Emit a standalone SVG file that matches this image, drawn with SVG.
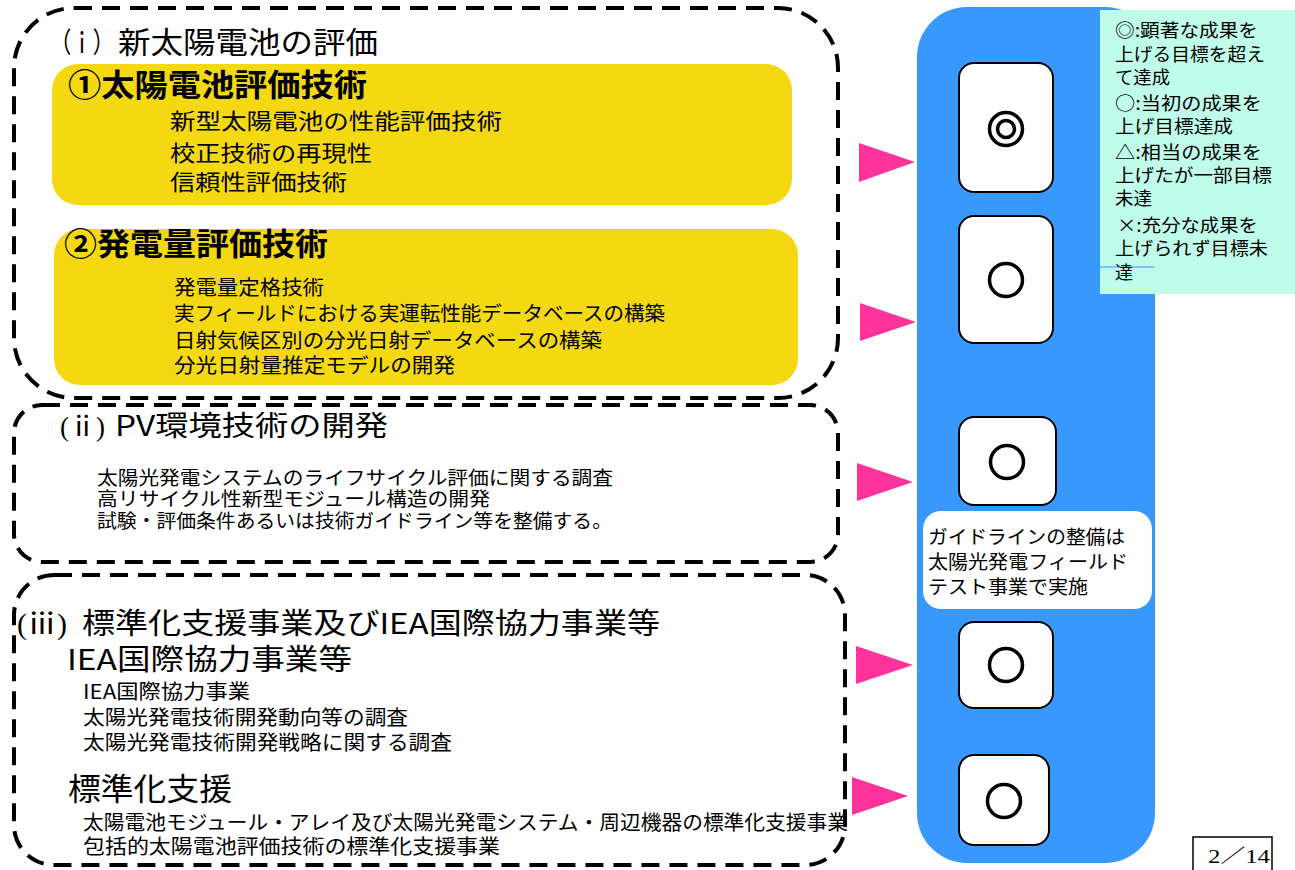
<svg xmlns="http://www.w3.org/2000/svg" width="1295" height="870" viewBox="0 0 1295 870">
<style>
text{font-family:"Noto Sans CJK JP","Noto Sans CJK SC",sans-serif;fill:#000}
.dash{fill:none;stroke:#000;stroke-width:4;stroke-dasharray:18 10}
.yel{fill:#f4d912}
.t30{font-size:30px}
.b31{font-size:31px;font-weight:bold}
.s22{font-size:22px}
.s20{font-size:20px}
.s19{font-size:19px}
.s18{font-size:18px}
.rate{fill:#fff;stroke:#000;stroke-width:2}
.sym{fill:none;stroke:#000;stroke-width:3.5}
.arr{fill:#ff3399}
.serif{font-family:"Liberation Serif","Noto Sans CJK JP",serif}
</style>
<rect width="1295" height="870" fill="#fff"/>

<g id="panel">
<rect x="917" y="7" width="238" height="856" rx="50" fill="#3898fc"/>
</g>

<g id="legend">
<rect x="1100" y="10" width="195" height="284" fill="#c0fcea"/>
<line x1="1100" y1="267" x2="1155" y2="267" stroke="#3898fc" stroke-width="1"/>
<text class="s18" x="1115" y="37" textLength="143" lengthAdjust="spacingAndGlyphs">◎:顕著な成果を</text>
<text class="s18" x="1115" y="61" textLength="150" lengthAdjust="spacingAndGlyphs">上げる目標を超え</text>
<text class="s18" x="1115" y="84" textLength="55" lengthAdjust="spacingAndGlyphs">て達成</text>
<text class="s18" x="1115" y="110" textLength="147" lengthAdjust="spacingAndGlyphs">○:当初の成果を</text>
<text class="s18" x="1115" y="133" textLength="118" lengthAdjust="spacingAndGlyphs">上げ目標達成</text>
<text class="s18" x="1115" y="159" textLength="147" lengthAdjust="spacingAndGlyphs">△:相当の成果を</text>
<text class="s18" x="1115" y="182" textLength="157" lengthAdjust="spacingAndGlyphs">上げたが一部目標</text>
<text class="s18" x="1115" y="205" textLength="37" lengthAdjust="spacingAndGlyphs">未達</text>
<text class="s18" x="1117" y="232" textLength="141" lengthAdjust="spacingAndGlyphs">×:充分な成果を</text>
<text class="s18" x="1115" y="255" textLength="153" lengthAdjust="spacingAndGlyphs">上げられず目標未</text>
<text class="s18" x="1115" y="279">達</text>
</g>

<g id="box-i">
<rect class="dash" x="14" y="8" width="824" height="390" rx="60"/>
<text font-size="28" x="50" y="53" textLength="64" lengthAdjust="spacingAndGlyphs">（ｉ）</text>
<text class="t30" x="118" y="53" textLength="260" lengthAdjust="spacingAndGlyphs">新太陽電池の評価</text>
</g>

<g id="yellow-1">
<rect class="yel" x="52" y="64" width="740" height="141" rx="26"/>
<text class="b31" x="68" y="96" textLength="299" lengthAdjust="spacingAndGlyphs">①太陽電池評価技術</text>
<text class="s22" x="170" y="129" textLength="332" lengthAdjust="spacingAndGlyphs">新型太陽電池の性能評価技術</text>
<text class="s22" x="170" y="161" textLength="202" lengthAdjust="spacingAndGlyphs">校正技術の再現性</text>
<text class="s22" x="170" y="190" textLength="177" lengthAdjust="spacingAndGlyphs">信頼性評価技術</text>
</g>

<g id="yellow-2">
<rect class="yel" x="54" y="229" width="744" height="156" rx="26"/>
<text class="b31" x="64" y="255" textLength="264" lengthAdjust="spacingAndGlyphs">②発電量評価技術</text>
<text class="s20" x="174" y="295" textLength="150" lengthAdjust="spacingAndGlyphs">発電量定格技術</text>
<text class="s20" x="174" y="321" textLength="491" lengthAdjust="spacingAndGlyphs">実フィールドにおける実運転性能データベースの構築</text>
<text class="s20" x="174" y="348" textLength="428" lengthAdjust="spacingAndGlyphs">日射気候区別の分光日射データベースの構築</text>
<text class="s20" x="174" y="373" textLength="281" lengthAdjust="spacingAndGlyphs">分光日射量推定モデルの開発</text>
</g>

<g id="box-ii">
<rect class="dash" x="14" y="405" width="824" height="157" rx="28"/>
<text class="serif" font-size="28" x="60" y="436" textLength="45" lengthAdjust="spacingAndGlyphs">(ⅱ)</text>
<text font-size="28" x="115" y="436" textLength="273" lengthAdjust="spacingAndGlyphs">PV環境技術の開発</text>
<text class="s19" x="97" y="485" textLength="516" lengthAdjust="spacingAndGlyphs">太陽光発電システムのライフサイクル評価に関する調査</text>
<text class="s19" x="97" y="506" textLength="393" lengthAdjust="spacingAndGlyphs">高リサイクル性新型モジュール構造の開発</text>
<text class="s19" x="97" y="528" textLength="515" lengthAdjust="spacingAndGlyphs">試験・評価条件あるいは技術ガイドライン等を整備する。</text>
</g>

<g id="box-iii">
<rect class="dash" x="14" y="575" width="831" height="290" rx="40"/>
<text class="serif" font-size="29" x="17" y="634" textLength="50" lengthAdjust="spacingAndGlyphs">(ⅲ)</text>
<text font-size="29" x="82" y="634" textLength="578" lengthAdjust="spacingAndGlyphs">標準化支援事業及びIEA国際協力事業等</text>
<text font-size="29" x="67" y="670" textLength="285" lengthAdjust="spacingAndGlyphs">IEA国際協力事業等</text>
<text class="s20" x="83" y="699" textLength="167" lengthAdjust="spacingAndGlyphs">IEA国際協力事業</text>
<text class="s20" x="83" y="725" textLength="325" lengthAdjust="spacingAndGlyphs">太陽光発電技術開発動向等の調査</text>
<text class="s20" x="83" y="750" textLength="369" lengthAdjust="spacingAndGlyphs">太陽光発電技術開発戦略に関する調査</text>
<text font-size="31" x="68" y="800" textLength="164" lengthAdjust="spacingAndGlyphs">標準化支援</text>
<text class="s20" x="83" y="830" textLength="765" lengthAdjust="spacingAndGlyphs">太陽電池モジュール・アレイ及び太陽光発電システム・周辺機器の標準化支援事業</text>
<text class="s20" x="83" y="854" textLength="417" lengthAdjust="spacingAndGlyphs">包括的太陽電池評価技術の標準化支援事業</text>
</g>

<g id="rating-1">
<rect class="rate" x="959" y="63" width="94" height="129" rx="15"/>
<circle class="sym" cx="1006" cy="129" r="16.5" stroke-width="3"/>
<circle class="sym" cx="1006" cy="129" r="8.5" stroke-width="3"/>
</g>
<g id="rating-2">
<rect class="rate" x="959" y="216" width="94" height="127" rx="15"/>
<circle class="sym" cx="1006" cy="280" r="16.5"/>
</g>
<g id="rating-3">
<rect class="rate" x="959" y="417" width="97" height="88" rx="15"/>
<circle class="sym" cx="1007" cy="462" r="16.5"/>
</g>
<g id="guide-note">
<rect x="923" y="511" width="229" height="98" rx="18" fill="#fff"/>
<text class="s19" x="928" y="544" textLength="197" lengthAdjust="spacingAndGlyphs">ガイドラインの整備は</text>
<text class="s19" x="928" y="569" textLength="200" lengthAdjust="spacingAndGlyphs">太陽光発電フィールド</text>
<text class="s19" x="928" y="594" textLength="160" lengthAdjust="spacingAndGlyphs">テスト事業で実施</text>
</g>
<g id="rating-4">
<rect class="rate" x="959" y="622" width="94" height="86" rx="15"/>
<circle class="sym" cx="1006" cy="665" r="16.5"/>
</g>
<g id="rating-5">
<rect class="rate" x="959" y="755" width="90" height="90" rx="15"/>
<circle class="sym" cx="1004" cy="801" r="16.5"/>
</g>

<g id="connectors">
<polygon class="arr" points="859,143 915,162 859,182"/>
<polygon class="arr" points="860,303 916,322 860,341"/>
<polygon class="arr" points="857,463 913,482 857,501"/>
<polygon class="arr" points="856,646 913,665 856,684"/>
<polygon class="arr" points="852,777 908,796 852,815"/>
</g>

<g id="page-number">
<rect x="1193" y="837" width="79" height="40" fill="#fff" stroke="#000" stroke-width="1.5"/>
<text class="serif" font-size="19" x="1208" y="863" textLength="62" lengthAdjust="spacingAndGlyphs">2／14</text>
</g>
</svg>
